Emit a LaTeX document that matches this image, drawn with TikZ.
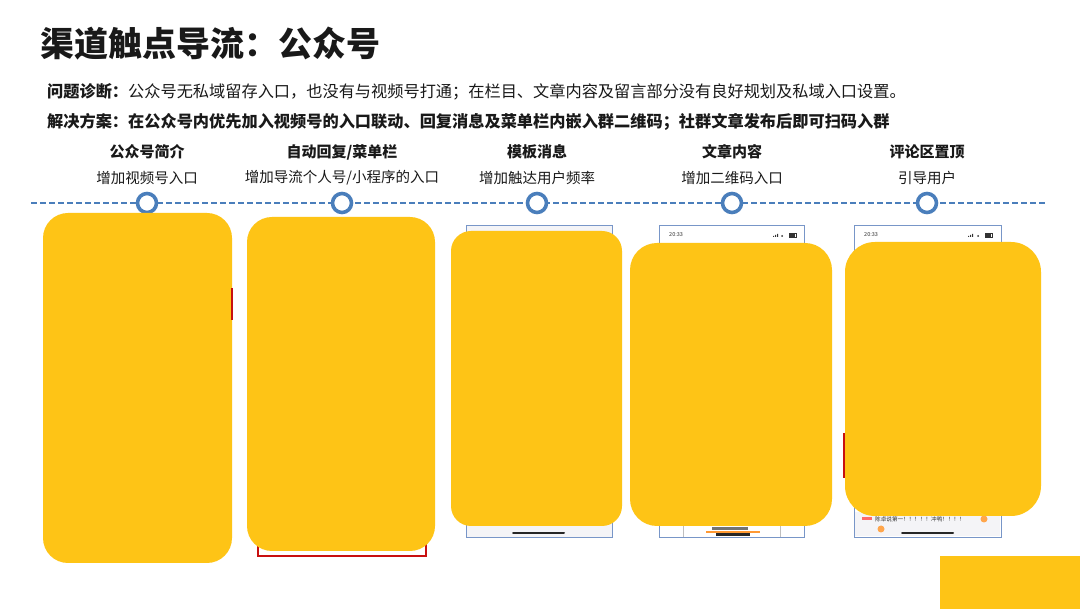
\documentclass[tikz,border=0pt]{standalone}
\usepackage{fontspec}
\setmainfont{Noto Sans CJK SC}
\definecolor{ylw}{RGB}{254,196,22}
\definecolor{lineblue}{RGB}{74,126,187}
\definecolor{framebl}{RGB}{120,150,200}
\definecolor{txt}{RGB}{25,25,25}
\definecolor{redm}{RGB}{200,16,16}
\definecolor{scrgray}{RGB}{244,244,247}
\tikzset{
  blob/.style={fill=ylw, draw=none, rounded corners=#1},
  blob/.default=25pt,
  frame/.style={draw=framebl, line width=0.9pt},
  head/.style={font=\fontsize{15}{15}\selectfont\bfseries, text=txt, inner sep=0pt},
  sub/.style={font=\fontsize{14.5}{14.5}\selectfont, text=txt, inner sep=0pt},
  dot/.style={circle, draw=lineblue, line width=3.6pt, fill=white, minimum size=19pt, inner sep=0pt},
  homebar/.style={line width=2pt, draw=black!85, line cap=round},
  redmark/.style={draw=redm, line width=1.6pt},
  tiny/.style={font=\fontsize{5.5}{5.5}\selectfont, text=black!80, inner sep=0pt, anchor=west},
}
\begin{document}
\begin{tikzpicture}[x=1pt, y=-1pt]
\useasboundingbox (0,0) rectangle (1080,609);
\fill[white] (0,0) rectangle (1080,609);

% title and text
\node[anchor=west, inner sep=0pt, text=txt, font=\fontsize{34}{34}\selectfont\bfseries] (title) at (40,44) {渠道触点导流：公众号};
\node[anchor=west, inner sep=0pt, text=txt, font=\fontsize{16.2}{16.2}\selectfont] (l1) at (47,92) {\textbf{问题诊断：}公众号无私域留存入口，也没有与视频号打通；在栏目、文章内容及留言部分没有良好规划及私域入口设置。};
\node[anchor=west, inner sep=0pt, text=txt, font=\fontsize{16.2}{16.2}\selectfont\bfseries] (l2) at (47,122) {解决方案：在公众号内优先加入视频号的入口联动、回复消息及菜单栏内嵌入群二维码；社群文章发布后即可扫码入群};

% headings
\node[head] (h1) at (147,152) {公众号简介};
\node[head] (h2) at (342,152) {自动回复/菜单栏};
\node[head] (h3) at (537,152) {模板消息};
\node[head] (h4) at (732,152) {文章内容};
\node[head] (h5) at (927,152) {评论区置顶};
\node[sub] (s1) at (147,178) {增加视频号入口};
\node[sub] (s2) at (342,178) {增加导流个人号/小程序的入口};
\node[sub] (s3) at (537,178) {增加触达用户频率};
\node[sub] (s4) at (732,178) {增加二维码入口};
\node[sub] (s5) at (927,178) {引导用户};

% timeline
\coordinate (tl0) at (31,203);
\coordinate (tl1) at (1046,203);
\draw[lineblue, line width=2pt, dash pattern=on 6pt off 3pt] (tl0) -- (tl1);
\node[dot] (d1) at (147,203) {};
\node[dot] (d2) at (342,203) {};
\node[dot] (d3) at (537,203) {};
\node[dot] (d4) at (732,203) {};
\node[dot] (d5) at (927,203) {};

% panel 1
\fill[blob] (43,213) rectangle (232,563);
\draw[redmark] (232,288) -- (232,320);

% panel 2
\draw[redmark] (258,538) -- (258,556) -- (426,556) -- (426,538);
\fill[blob] (247,217) rectangle (435,551);

% panel 3
\filldraw[frame, fill=scrgray] (466,225) rectangle (612,537);
\draw[homebar] (513,533) -- (564,533);
\fill[blob=20pt] (451,231) rectangle (622,526);

% panel 4
\filldraw[frame, fill=white] (659,225) rectangle (804,537);
\node[tiny] (t4) at (669,235) {20:33};
\fill[black!80] (773,236) rectangle (774,237) (775,235) rectangle (776,237) (777,234) rectangle (778,237);
\fill[black!80] (782,236) circle (1);
\draw[black!80, line width=0.5pt] (789,233.5) rectangle (796,237);
\fill[black!80] (789,233.5) rectangle (795,237);
\draw[black!25, line width=0.6pt] (683,526) -- (683,537) (780,526) -- (780,537);
\fill[black!55] (712,527) rectangle (748,530);
\fill[orange!80] (706,531) rectangle (760,533.5);
\fill[black!85] (716,533.5) rectangle (750,536);
\fill[ylw] (630,243) [rounded corners=27pt] rectangle (832,526);

% panel 5
\filldraw[frame, fill=white] (854,225) rectangle (1001,537);
\fill[scrgray] (855,512) rectangle (1000,536.5);
\node[tiny] (t5) at (864,235) {20:33};
\fill[black!80] (968,236) rectangle (969,237) (970,235) rectangle (971,237) (972,234) rectangle (973,237);
\fill[black!80] (978,236) circle (1);
\draw[black!80, line width=0.5pt] (985,233.5) rectangle (992,237);
\fill[black!80] (985,233.5) rectangle (991,237);
\fill[red!45!pink] (862,517) rectangle (872,520);
\node[tiny, font=\fontsize{5.6}{5.6}\selectfont] (cm) at (875,519) {陈卓说第一！！！！！冲鸭！！！！};
\fill[orange!70] (984,519) circle (3.5);
\fill[orange!70] (881,529) circle (3.5);
\draw[homebar] (902,533) -- (953,533);
\draw[redmark] (844,433) -- (844,478);
\fill[blob=30pt] (845,242) rectangle (1041,516);

% bottom right block
\fill[ylw] (940,556) rectangle (1080,609);
\end{tikzpicture}
\end{document}
